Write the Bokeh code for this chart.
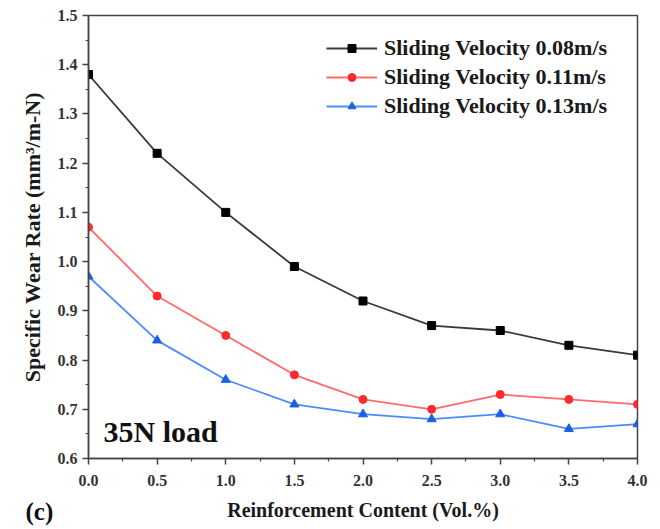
from bokeh.plotting import figure
from bokeh.models import Range1d, Label, Legend, LegendItem, FixedTicker, NumeralTickFormatter, Title
from bokeh.embed import file_html
from bokeh.resources import INLINE

# Reinforcement content (vol.%) and specific wear rate for each sliding velocity
content = [0.0, 0.5, 1.0, 1.5, 2.0, 2.5, 3.0, 3.5, 4.0]
wear_008 = [1.38, 1.22, 1.10, 0.99, 0.92, 0.87, 0.86, 0.83, 0.81]
wear_011 = [1.07, 0.93, 0.85, 0.77, 0.72, 0.70, 0.73, 0.72, 0.71]
wear_013 = [0.97, 0.84, 0.76, 0.71, 0.69, 0.68, 0.69, 0.66, 0.67]
series_labels = ["Sliding Velocity 0.08m/s", "Sliding Velocity 0.11m/s", "Sliding Velocity 0.13m/s"]
x_ticks = [0.0, 0.5, 1.0, 1.5, 2.0, 2.5, 3.0, 3.5, 4.0]
y_ticks = [0.6, 0.7, 0.8, 0.9, 1.0, 1.1, 1.2, 1.3, 1.4, 1.5]

FONT = "Liberation Serif"

p = figure(width=660, height=529, output_backend="svg", toolbar_location=None,
           x_range=Range1d(0, 4.0), y_range=Range1d(0.6, 1.5),
           min_border_left=88, min_border_right=23, min_border_top=15, min_border_bottom=71)
p.grid.visible = False
p.outline_line_color = "#444444"
p.outline_line_width = 1.5
p.background_fill_color = "white"
p.border_fill_color = "white"

for ax in (p.xaxis[0], p.yaxis[0]):
    ax.axis_line_color = "#444444"
    ax.axis_line_width = 1.5
    ax.major_tick_line_color = "#444444"
    ax.minor_tick_line_color = "#444444"
    ax.major_tick_line_width = 1.5
    ax.minor_tick_line_width = 1.2
    ax.major_tick_out = 6
    ax.major_tick_in = 0
    ax.minor_tick_out = 3
    ax.minor_tick_in = 0
    ax.major_label_text_font = FONT
    ax.major_label_text_font_style = "bold"
    ax.major_label_text_font_size = "16px"
    ax.major_label_text_color = "#333333"
    ax.axis_label_text_font = FONT
    ax.axis_label_text_font_style = "bold"
    ax.axis_label_text_color = "#1a1a1a"

p.xaxis[0].axis_label_text_font_size = "20px"
p.yaxis[0].axis_label_text_font_size = "22px"
p.xaxis[0].ticker = FixedTicker(ticks=x_ticks, minor_ticks=[t + 0.25 for t in x_ticks[:-1]])
p.yaxis[0].ticker = FixedTicker(ticks=y_ticks, minor_ticks=[round(t + 0.05, 2) for t in y_ticks[:-1]])
p.xaxis[0].formatter = NumeralTickFormatter(format="0.0")
p.yaxis[0].formatter = NumeralTickFormatter(format="0.0")
p.xaxis[0].axis_label = "Reinforcement Content (Vol.%)"
p.yaxis[0].axis_label = "Specific Wear Rate (mm³/m-N)"
p.xaxis[0].major_label_standoff = 10
p.yaxis[0].major_label_standoff = 5
p.xaxis[0].axis_label_standoff = 10
p.yaxis[0].axis_label_standoff = 10

l1 = p.line(content, wear_008, line_color="#3a3a3a", line_width=1.8)
m1 = p.scatter(content, wear_008, marker="square", size=8, fill_color="black", line_color="black")
l2 = p.line(content, wear_011, line_color="#ff6a6a", line_width=1.8)
m2 = p.scatter(content, wear_011, marker="circle", size=8, fill_color="#ff2a2a", line_color="#ff2a2a")
l3 = p.line(content, wear_013, line_color="#4a8cff", line_width=1.8)
m3 = p.scatter(content, wear_013, marker="triangle", size=9, fill_color="#1a5fe6", line_color="#1a5fe6")

legend = Legend(items=[LegendItem(label=series_labels[0], renderers=[l1, m1]),
                       LegendItem(label=series_labels[1], renderers=[l2, m2]),
                       LegendItem(label=series_labels[2], renderers=[l3, m3])],
                location=(238, 339))
legend.border_line_color = None
legend.background_fill_alpha = 0
legend.label_text_font = FONT
legend.label_text_font_style = "bold"
legend.label_text_font_size = "22px"
legend.label_text_color = "#1a1a1a"
legend.glyph_width = 51
legend.spacing = 3
legend.padding = 6
legend.label_standoff = 7
p.add_layout(legend)

p.add_layout(Label(x=0.11, y=0.654, text="35N load", text_font=FONT, text_font_style="bold",
                   text_font_size="30px", text_color="#111111", text_baseline="alphabetic"))

# panel tag, drawn in the bottom margin beside the x-axis title
tag = Title(text="(c)", align="left", offset=-63, vertical_align="top", standoff=-52,
            text_font=FONT, text_font_style="bold", text_font_size="25px", text_color="#111111")
p.add_layout(tag, "below")

open("out.html", "w").write(file_html(p, INLINE))
